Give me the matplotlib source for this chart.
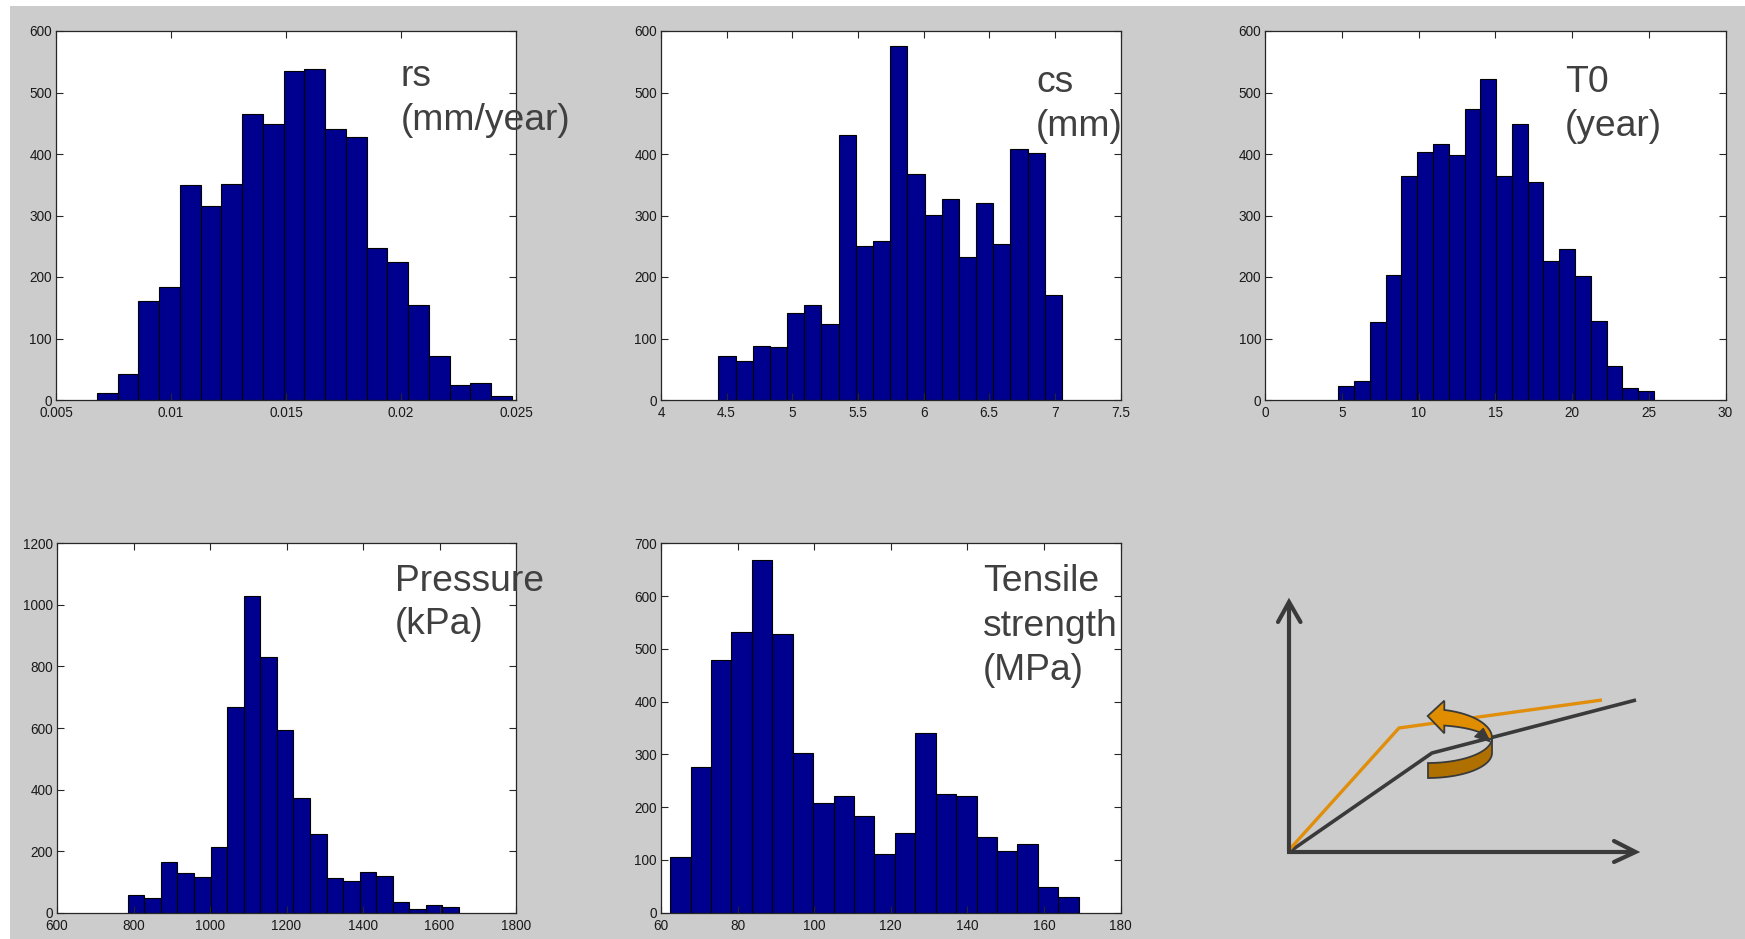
import numpy as np
import matplotlib
matplotlib.use("Agg")
import matplotlib.pyplot as plt
from matplotlib.patches import Rectangle, Polygon

# ---------------- data (histogram counts, 20 bins each) ----------------
rs_range = (0.00678, 0.02482)
rs_counts = [11, 43, 161, 183, 349, 316, 351, 465, 449, 535,
             539, 440, 427, 247, 225, 154, 71, 25, 28, 7]

cs_range = (4.4375, 7.0537)
cs_counts = [71, 64, 88, 86, 141, 154, 124, 431, 250, 259,
             575, 367, 301, 327, 232, 320, 253, 408, 401, 170]

t0_range = (4.76, 25.33)
t0_counts = [22, 31, 127, 204, 365, 403, 416, 399, 473, 522,
             365, 449, 354, 226, 245, 201, 129, 56, 20, 15]

p_range = (785.0, 1651.0)
p_counts = [57, 47, 164, 130, 116, 213, 667, 1029, 830, 595,
            371, 256, 113, 102, 131, 120, 36, 12, 25, 17]

ts_range = (62.4, 169.1)
ts_counts = [106, 277, 479, 532, 669, 528, 302, 208, 221, 183,
             112, 151, 341, 224, 222, 144, 117, 130, 49, 30]

rs_xticks = [0.005, 0.01, 0.015, 0.02, 0.025]
rs_xlabels = ["0.005", "0.01", "0.015", "0.02", "0.025"]
cs_xticks = [4, 4.5, 5, 5.5, 6, 6.5, 7, 7.5]
cs_xlabels = ["4", "4.5", "5", "5.5", "6", "6.5", "7", "7.5"]
t0_xticks = [0, 5, 10, 15, 20, 25, 30]
p_xticks = [600, 800, 1000, 1200, 1400, 1600, 1800]
ts_xticks = [60, 80, 100, 120, 140, 160, 180]
yticks_600 = [0, 100, 200, 300, 400, 500, 600]
yticks_1200 = [0, 200, 400, 600, 800, 1000, 1200]
yticks_700 = [0, 100, 200, 300, 400, 500, 600, 700]

labels_rs = ["rs", "(mm/year)"]
labels_cs = ["cs", "(mm)"]
labels_t0 = ["T0", "(year)"]
labels_p = ["Pressure", "(kPa)"]
labels_ts = ["Tensile", "strength", "(MPa)"]

# ---------------- figure ----------------
W, H = 1745, 939
fig = plt.figure(figsize=(W / 100, H / 100), dpi=100)
fig.patch.set_facecolor("white")

bg = fig.add_axes([0, 0, 1, 1], zorder=0)
bg.set_xlim(0, W)
bg.set_ylim(H, 0)
bg.axis("off")
bg.add_patch(Rectangle((10, 6), W - 10, H - 6, facecolor="#cccccc", edgecolor="none"))

TICK_FONT = dict(family=["Liberation Sans", "DejaVu Sans"], size=9.8)
BAR_COLOR = "#00008f"
SPINE_COLOR = "#262626"


def add_ax(l, r, t, b):
    return fig.add_axes([l / W, 1 - b / H, (r - l) / W, (b - t) / H], zorder=1)


def hist_panel(l, r, t, b, rng, counts, xlim, xticks, xlabels, ylim, yticks):
    ax = add_ax(l, r, t, b)
    ax.set_facecolor("white")
    edges = np.linspace(rng[0], rng[1], len(counts) + 1)
    ax.bar(edges[:-1], counts, width=np.diff(edges), align="edge",
           color=BAR_COLOR, edgecolor="black", linewidth=0.8)
    ax.set_xlim(*xlim)
    ax.set_ylim(*ylim)
    ax.set_xticks(xticks)
    ax.set_xticklabels(xlabels, **TICK_FONT, color="#1a1a1a")
    ax.set_yticks(yticks)
    ax.set_yticklabels([str(v) for v in yticks], **TICK_FONT, color="#1a1a1a")
    ax.tick_params(direction="in", length=5, width=0.8, color=SPINE_COLOR,
                   top=True, right=True)
    ax.tick_params(axis="x", pad=4.5)
    ax.tick_params(axis="y", pad=3)
    for s in ax.spines.values():
        s.set_color(SPINE_COLOR)
        s.set_linewidth(0.9)
    return ax


hist_panel(56, 516, 31, 400, rs_range, rs_counts, (0.005, 0.025), rs_xticks, rs_xlabels,
           (0, 600), yticks_600)
hist_panel(661, 1120.5, 31, 400, cs_range, cs_counts, (4, 7.5), cs_xticks, cs_xlabels,
           (0, 600), yticks_600)
hist_panel(1265.3, 1725.5, 31, 400, t0_range, t0_counts, (0, 30), t0_xticks,
           [str(v) for v in t0_xticks], (0, 600), yticks_600)
hist_panel(57, 516, 543.3, 912.7, p_range, p_counts, (600, 1800), p_xticks,
           [str(v) for v in p_xticks], (0, 1200), yticks_1200)
hist_panel(661, 1120.5, 543.3, 912.7, ts_range, ts_counts, (60, 180), ts_xticks,
           [str(v) for v in ts_xticks], (0, 700), yticks_700)

# ---------------- overlay: annotations + schematic ----------------
ov = fig.add_axes([0, 0, 1, 1], zorder=3)
ov.set_xlim(0, W)
ov.set_ylim(H, 0)
ov.axis("off")
ov.patch.set_alpha(0)

ANN = dict(family=["Liberation Sans", "DejaVu Sans"], size=26.8, color="#404040",
           va="baseline", ha="left")


def annotate(x, y0, lines, step=43.5):
    for i, s in enumerate(lines):
        ov.text(x, y0 + i * step, s, **ANN)


annotate(401, 86, labels_rs)
annotate(1036, 92, labels_cs)
annotate(1565, 92, labels_t0)
annotate(395, 591, labels_p)
annotate(983, 591, labels_ts, step=44.5)

# schematic (pixel coordinates)
DARK = "#3a3a3a"
ORANGE = "#e08e0b"
black_path_x = [1289, 1432, 1636]
black_path_y = [852, 753, 700]
orange_path_x = [1289, 1399, 1602]
orange_path_y = [850, 728, 700]
ov.plot(black_path_x, black_path_y, color=DARK, lw=2.6, solid_capstyle="butt")
ov.plot(orange_path_x, orange_path_y, color=ORANGE, lw=2.4, solid_capstyle="butt")

# axes arrows
ov.plot([1289, 1289], [852, 603], color=DARK, lw=3.0, solid_capstyle="butt")
ov.plot([1287, 1634], [852, 852], color=DARK, lw=3.0, solid_capstyle="butt")
ov.plot([1278, 1289, 1300.5], [622, 602, 622], color=DARK, lw=3.0,
        solid_capstyle="round", solid_joinstyle="miter")
ov.plot([1614, 1635.5, 1614], [841, 852, 862], color=DARK, lw=3.0,
        solid_capstyle="round", solid_joinstyle="miter")

# rotating ribbon arrow
cx = 1428.0
th = np.linspace(0, -np.pi / 2, 40)
front_top = np.column_stack([cx + 64 * np.cos(th), 738 - 25 * np.sin(th)])
front_bot = np.column_stack([cx + 64 * np.cos(th), 753 - 25 * np.sin(th)])[::-1]
front = np.vstack([front_top, front_bot])
ov.add_patch(Polygon(front, closed=True, facecolor="#b07000", edgecolor=DARK,
                     lw=1.3, zorder=5))

th_out = np.linspace(np.arccos(16.3 / 64), 0, 40)
outer = np.column_stack([cx + 64 * np.cos(th_out), 738 - 29 * np.sin(th_out)])
th_in = np.linspace(0, np.arccos(16.3 / 60), 40)
inner = np.column_stack([cx + 60 * np.cos(th_in), 740 - 15 * np.sin(th_in)])
head = np.array([[1444.3, 733.3], [1427.7, 716.0], [1444.3, 700.7]])
top_face = np.vstack([head, outer, inner])
ov.add_patch(Polygon(top_face, closed=True, facecolor="#e08e00", edgecolor=DARK,
                     lw=1.3, zorder=6))
ov.add_patch(Polygon([[1483.3, 728.3], [1490.2, 741.7], [1474.6, 736.7]], closed=True,
                     facecolor=DARK, edgecolor=DARK, lw=0.8, zorder=7))

fig.savefig("out.png", dpi=100, facecolor=fig.get_facecolor())
